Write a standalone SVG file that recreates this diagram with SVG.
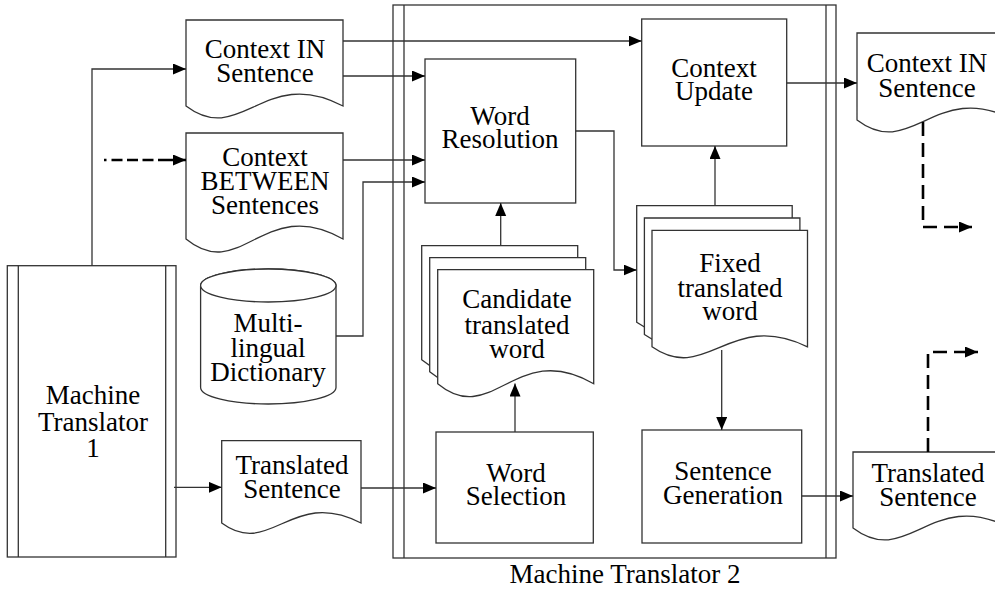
<svg xmlns="http://www.w3.org/2000/svg" width="995" height="591" viewBox="0 0 995 591" font-family="Liberation Serif, DejaVu Serif, serif">
  <defs>
    <marker id="arrow" markerUnits="userSpaceOnUse" markerWidth="14" markerHeight="12" refX="13" refY="5.5" orient="auto">
      <path d="M0,0 L13,5.5 L0,11 Z" fill="#000"/>
    </marker>
    <style>
      .shape { fill: #fff; stroke: #333; stroke-width: 1.3; }
      .frame { fill: none; stroke: #333; stroke-width: 1.3; }
      .link { fill: none; stroke: #333; stroke-width: 1.3; marker-end: url(#arrow); }
      .dash { fill: none; stroke: #000; stroke-width: 2.6; marker-end: url(#arrow); }
      text { font-family: 'Liberation Serif', 'DejaVu Serif', serif; font-size: 27px; fill: #000; text-anchor: middle; }
    </style>
  </defs>

  <rect width="995" height="591" fill="#fff"/>

  <!-- Machine Translator 2 container -->
  <g id="mt2">
    <rect class="frame" x="393" y="5" width="443" height="553"/>
    <line class="frame" x1="404" y1="5" x2="404" y2="558"/>
    <line class="frame" x1="826" y1="5" x2="826" y2="558"/>
    <text x="625" y="583">Machine Translator 2</text>
  </g>

  <!-- Machine Translator 1 -->
  <g id="mt1">
    <rect class="shape" x="7.3" y="265.7" width="168.7" height="291.3"/>
    <line class="frame" x1="18.3" y1="265.7" x2="18.3" y2="557"/>
    <line class="frame" x1="165.7" y1="265.7" x2="165.7" y2="557"/>
    <text><tspan x="93" y="404">Machine</tspan><tspan x="93" y="431">Translator</tspan><tspan x="93" y="457">1</tspan></text>
  </g>

  <!-- input documents -->
  <g id="ctx-in">
    <path class="shape" d="M186,20 H343 V106 C264.5,64.5 241,147.5 186,106 Z"/>
    <text><tspan x="265" y="58">Context IN</tspan><tspan x="265" y="82">Sentence</tspan></text>
  </g>

  <g id="ctx-between">
    <path class="shape" d="M186,133 H343 V239 C264.5,194 241,284 186,239 Z"/>
    <text><tspan x="265" y="166">Context</tspan><tspan x="265" y="190">BETWEEN</tspan><tspan x="265" y="214">Sentences</tspan></text>
  </g>

  <g id="dictionary">
    <path class="shape" d="M200.6,285.5 V387.5 A67.7,16.5 0 0 0 336,387.5 V285.5 A67.7,16.5 0 0 0 200.6,285.5 Z"/>
    <ellipse class="shape" cx="268.3" cy="285.5" rx="67.7" ry="16.5"/>
    <text><tspan x="268" y="332">Multi-</tspan><tspan x="268" y="356.5">lingual</tspan><tspan x="268" y="381">Dictionary</tspan></text>
  </g>

  <g id="translated-in">
    <path class="shape" d="M221.7,440.7 H361 V523 C291.4,487 270.5,559 221.7,523 Z"/>
    <text><tspan x="292" y="474">Translated</tspan><tspan x="292" y="498">Sentence</tspan></text>
  </g>

  <!-- processes inside Machine Translator 2 -->
  <g id="word-resolution">
    <rect class="shape" x="425" y="59" width="150.7" height="144"/>
    <text><tspan x="500" y="125">Word</tspan><tspan x="500" y="148">Resolution</tspan></text>
  </g>

  <g id="context-update">
    <rect class="shape" x="641.7" y="19" width="145" height="127"/>
    <text><tspan x="714" y="77">Context</tspan><tspan x="714" y="100">Update</tspan></text>
  </g>

  <g id="candidate">
    <path class="shape" d="M421.7,245.7 H577.7 V359.7 C499.7,314.7 476.3,404.7 421.7,359.7 Z"/>
    <path class="shape" d="M429.7,257.7 H585.7 V371.7 C507.7,326.7 484.3,416.7 429.7,371.7 Z"/>
    <path class="shape" d="M437.7,269.7 H593.7 V383.7 C515.7,338.7 492.3,428.7 437.7,383.7 Z"/>
    <text><tspan x="517" y="308">Candidate</tspan><tspan x="517" y="334">translated</tspan><tspan x="517" y="358">word</tspan></text>
  </g>

  <g id="fixed">
    <path class="shape" d="M636.7,205.7 H792.2 V322.2 C714.5,284.2 691.1,360.2 636.7,322.2 Z"/>
    <path class="shape" d="M644.4,218 H799.9 V334.5 C722.2,296.5 698.8,372.5 644.4,334.5 Z"/>
    <path class="shape" d="M652,230.3 H807.5 V346.8 C729.8,308.8 706.4,384.8 652,346.8 Z"/>
    <text><tspan x="730" y="272">Fixed</tspan><tspan x="730" y="297">translated</tspan><tspan x="730" y="320">word</tspan></text>
  </g>

  <g id="word-selection">
    <rect class="shape" x="436" y="432" width="157.3" height="111"/>
    <text><tspan x="516" y="482">Word</tspan><tspan x="516" y="505">Selection</tspan></text>
  </g>

  <g id="sentence-generation">
    <rect class="shape" x="642" y="430" width="159.7" height="113"/>
    <text><tspan x="723" y="480">Sentence</tspan><tspan x="723" y="504">Generation</tspan></text>
  </g>

  <!-- output documents -->
  <g id="ctx-in-out">
    <path class="shape" d="M857,33 H1014 V120 C935.5,78.5 912,161.5 857,120 Z"/>
    <text><tspan x="927" y="72">Context IN</tspan><tspan x="927" y="97">Sentence</tspan></text>
  </g>

  <g id="translated-out">
    <path class="shape" d="M853,452 H1010 V528 C931.5,486.5 908,569.5 853,528 Z"/>
    <text><tspan x="928" y="482">Translated</tspan><tspan x="928" y="506">Sentence</tspan></text>
  </g>

  <!-- connectors -->
  <g id="connectors">
    <polyline class="link" points="92,265.7 92,69 186,69"/>
    <line class="dash" x1="104" y1="160" x2="186" y2="160" stroke-dasharray="2.5 5 11 4.5 11 4.5 11 4.5 30"/>
    <line class="link" x1="343" y1="41" x2="641.7" y2="41"/>
    <line class="link" x1="343" y1="76" x2="425" y2="76"/>
    <line class="link" x1="343" y1="160" x2="425" y2="160"/>
    <polyline class="link" points="336,336 363,336 363,182 425,182"/>
    <polyline class="link" points="575.7,131 614,131 614,270 636.7,270"/>
    <line class="link" x1="500.7" y1="245.7" x2="500.7" y2="203"/>
    <line class="link" x1="515" y1="432" x2="515" y2="383.5"/>
    <line class="link" x1="715" y1="205.7" x2="715" y2="146"/>
    <line class="link" x1="721.7" y1="350" x2="721.7" y2="430"/>
    <line class="link" x1="786.7" y1="83" x2="857" y2="83"/>
    <line class="link" x1="801.7" y1="496" x2="853" y2="496"/>
    <line class="link" x1="174" y1="487.3" x2="221.7" y2="487.3"/>
    <line class="link" x1="361" y1="488" x2="436" y2="488"/>
    <polyline class="dash" points="923,122 923,227 972,227" stroke-dasharray="14 7"/>
    <polyline class="dash" points="928,452 928,352 978,352" stroke-dasharray="14 7"/>
  </g>
</svg>
